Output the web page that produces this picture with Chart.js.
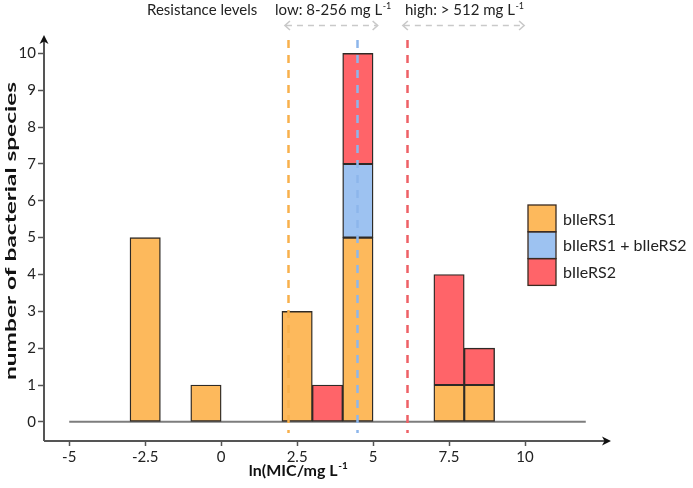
<!DOCTYPE html>
<html>
<head>
<meta charset="utf-8">
<script src="https://cdn.jsdelivr.net/npm/chart.js@4.4.1/dist/chart.umd.min.js"></script>
<style>
  html,body{margin:0;padding:0;background:#fff;}
  #wrap{width:693px;height:488px;}
</style>
</head>
<body>
<div id="wrap"><canvas id="c" width="693" height="488"></canvas></div>
<script>
// ---- data ----
const categories = [-2.5, -0.5, 2.5, 3.5, 4.5, 7.5, 8.5];   // bin centres, ln(MIC/mg L-1)
const seriesRS1  = [5, 1, 3, null, 5, 1, 1];
const seriesBoth = [null, null, null, null, 2, null, null];
const seriesRS2  = [null, null, null, 1, 3, 3, 1];
const seriesNames = ['bIleRS1', 'bIleRS1 + bIleRS2', 'bIleRS2'];
const seriesColors = ['#FDB95C', '#9DC2F1', '#FF6469'];
const xTickValues = [-5, -2.5, 0, 2.5, 5, 7.5, 10];
const xTickLabels = ['-5', '-2.5', '0', '2.5', '5', '7.5', '10'];
const yTickValues = [0, 1, 2, 3, 4, 5, 6, 7, 8, 9, 10];
const yTickLabels = ['0', '1', '2', '3', '4', '5', '6', '7', '8', '9', '10'];
const thresholdValues = [2.2, 4.48, 6.13];
const thresholdColors = ['#F8B04C', '#8DB6EB', '#EE6066'];
const rangeArrows = [[2.1, 5.15], [5.98, 9.97]];
const baselineRange = [-5, 12];

const FONT = 'Lato, "Open Sans", sans-serif';

function pts(arr){ return categories.map((x,i)=>({x:x, y:arr[i]})); }

function drawSup(ctx, base, sup, x, y, size, bold, align){
  const w = bold ? 'bold ' : '';
  ctx.font = w + size + 'px ' + FONT;
  const bw = ctx.measureText(base).width;
  ctx.font = w + Math.round(size*0.6) + 'px ' + FONT;
  const sw = ctx.measureText(sup).width;
  let sx = x;
  if (align === 'center') sx = x - (bw + sw)/2;
  ctx.textAlign = 'left';
  ctx.textBaseline = 'alphabetic';
  ctx.font = w + size + 'px ' + FONT;
  ctx.fillText(base, sx, y);
  ctx.font = w + Math.round(size*0.6) + 'px ' + FONT;
  ctx.fillText(sup, sx + bw + 0.5, y - size*0.42);
  return bw + sw;
}

function arrowHead(ctx, x, y, dir, color){
  ctx.save();
  ctx.fillStyle = color;
  ctx.translate(x, y);
  ctx.rotate(dir);
  ctx.beginPath();
  ctx.moveTo(0, 0);
  ctx.lineTo(-9, -4.5);
  ctx.lineTo(-6.5, 0);
  ctx.lineTo(-9, 4.5);
  ctx.closePath();
  ctx.fill();
  ctx.restore();
}

function chevron(ctx, x, y, dir, color){
  ctx.save();
  ctx.strokeStyle = color;
  ctx.lineWidth = 1.6;
  ctx.setLineDash([]);
  ctx.beginPath();
  ctx.moveTo(x - dir*5, y - 4.5);
  ctx.lineTo(x, y);
  ctx.lineTo(x - dir*5, y + 4.5);
  ctx.stroke();
  ctx.restore();
}

const decor = {
  id: 'decor',
  beforeDatasetsDraw(chart){
    const {ctx, scales:{x, y}} = chart;
    ctx.save();
    ctx.strokeStyle = '#7d7d7d';
    ctx.lineWidth = 2;
    ctx.beginPath();
    ctx.moveTo(x.getPixelForValue(baselineRange[0]), y.getPixelForValue(0));
    ctx.lineTo(x.getPixelForValue(baselineRange[1]), y.getPixelForValue(0));
    ctx.stroke();
    ctx.restore();
  },
  afterDatasetsDraw(chart){
    const {ctx, chartArea:ca, scales:{x, y}} = chart;
    ctx.save();
    thresholdValues.forEach((v,i)=>{
      const px = Math.round(x.getPixelForValue(v)) + 0.5;
      ctx.strokeStyle = thresholdColors[i];
      ctx.lineWidth = 2.5;
      ctx.setLineDash([8, 7]);
      ctx.beginPath();
      ctx.moveTo(px, 40);
      ctx.lineTo(px, y.getPixelForValue(-0.3));
      ctx.stroke();
    });
    ctx.strokeStyle = '#c9c9c9';
    ctx.lineWidth = 1.6;
    rangeArrows.forEach(r=>{
      const a = x.getPixelForValue(r[0]), b = x.getPixelForValue(r[1]);
      const yy = 25.5;
      ctx.setLineDash([6, 5]);
      ctx.beginPath();
      ctx.moveTo(a+1, yy); ctx.lineTo(b-1, yy);
      ctx.stroke();
      chevron(ctx, a, yy, -1, '#c9c9c9');
      chevron(ctx, b, yy, 1, '#c9c9c9');
    });
    ctx.setLineDash([]);
    ctx.strokeStyle = '#555';
    ctx.lineWidth = 2;
    ctx.beginPath();
    ctx.moveTo(ca.left, ca.bottom);
    ctx.lineTo(ca.left, ca.top + 4);
    ctx.moveTo(ca.left, ca.bottom);
    ctx.lineTo(ca.right - 4, ca.bottom);
    ctx.stroke();
    arrowHead(ctx, ca.left, ca.top, -Math.PI/2, '#111');
    arrowHead(ctx, ca.right, ca.bottom, 0, '#111');

    ctx.fillStyle = '#222';
    ctx.font = '15px ' + FONT;
    ctx.textAlign = 'left';
    ctx.textBaseline = 'alphabetic';
    ctx.fillText('Resistance levels', 147, 15);
    drawSup(ctx, 'low: 8-256 mg L', '-1', 275, 15, 15, false);
    drawSup(ctx, 'high: > 512 mg L', '-1', 405, 15, 15, false);

    ctx.fillStyle = '#111';
    drawSup(ctx, 'ln(MIC/mg L', '-1', 298, 476, 16, true, 'center');
    // y title, stretched along its length as in the reference
    ctx.save();
    ctx.font = 'bold 16px ' + FONT;
    const tw = ctx.measureText('number of bacterial species').width;
    ctx.translate(11, 231);
    ctx.rotate(-Math.PI/2);
    ctx.scale(298 / tw, 1);
    ctx.textAlign = 'center';
    ctx.textBaseline = 'middle';
    ctx.fillText('number of bacterial species', 0, 0);
    ctx.restore();

    const lx = 528, ly = 205, lw = 28, lh = 26.8;
    seriesNames.forEach((n,i)=>{
      ctx.fillStyle = seriesColors[i];
      ctx.fillRect(lx, ly + i*lh, lw, lh);
    });
    ctx.strokeStyle = '#3a2a20';
    ctx.lineWidth = 1.3;
    for (let i=0;i<3;i++) ctx.strokeRect(lx, ly + i*lh, lw, lh);
    ctx.fillStyle = '#222';
    ctx.font = '16px ' + FONT;
    ctx.textAlign = 'left';
    ctx.textBaseline = 'middle';
    seriesNames.forEach((n,i)=>{
      ctx.fillText(n, 563, ly + i*lh + lh/2 + 1);
    });
    ctx.restore();
  }
};

const ds = (label, data, color) => ({
  label, data: pts(data), backgroundColor: color,
  borderColor: '#2e2a26', borderWidth: 1.4, borderSkipped: false,
  barPercentage: 1, categoryPercentage: 1
});

new Chart(document.getElementById('c'), {
  type: 'bar',
  data: {
    datasets: [
      ds(seriesNames[0], seriesRS1, seriesColors[0]),
      ds(seriesNames[1], seriesBoth, seriesColors[1]),
      ds(seriesNames[2], seriesRS2, seriesColors[2])
    ]
  },
  options: {
    responsive: false,
    animation: false,
    layout: { padding: { left: 0, top: 35, right: 82, bottom: 0 } },
    plugins: { legend: { display: false }, tooltip: { enabled: false } },
    scales: {
      x: {
        type: 'linear', stacked: true, offset: false,
        min: -5.83, max: 12.83,
        afterFit(s){ s.height = 47; },
        afterBuildTicks(s){ s.ticks = xTickValues.map(v=>({value:v})); },
        ticks: {
          autoSkip: false, maxRotation: 0, padding: 2,
          color: '#222', font: { family: FONT, size: 15 },
          callback(v){ const i = xTickValues.indexOf(v); return i>=0 ? xTickLabels[i] : ''; }
        },
        grid: { offset: false, drawOnChartArea: false, drawTicks: true, tickLength: 5, color: '#555', tickWidth: 1.5 },
        border: { display: false }
      },
      y: {
        stacked: true,
        min: -0.52, max: 10.5,
        afterFit(s){ s.width = 44; },
        afterBuildTicks(s){ s.ticks = yTickValues.map(v=>({value:v})); },
        ticks: {
          autoSkip: false, padding: 2,
          color: '#222', font: { family: FONT, size: 15 },
          callback(v){ const i = yTickValues.indexOf(v); return i>=0 ? yTickLabels[i] : ''; }
        },
        grid: { drawOnChartArea: false, drawTicks: true, tickLength: 6, color: '#555', tickWidth: 1.5 },
        border: { display: false }
      }
    }
  },
  plugins: [decor]
});
</script>
</body>
</html>
